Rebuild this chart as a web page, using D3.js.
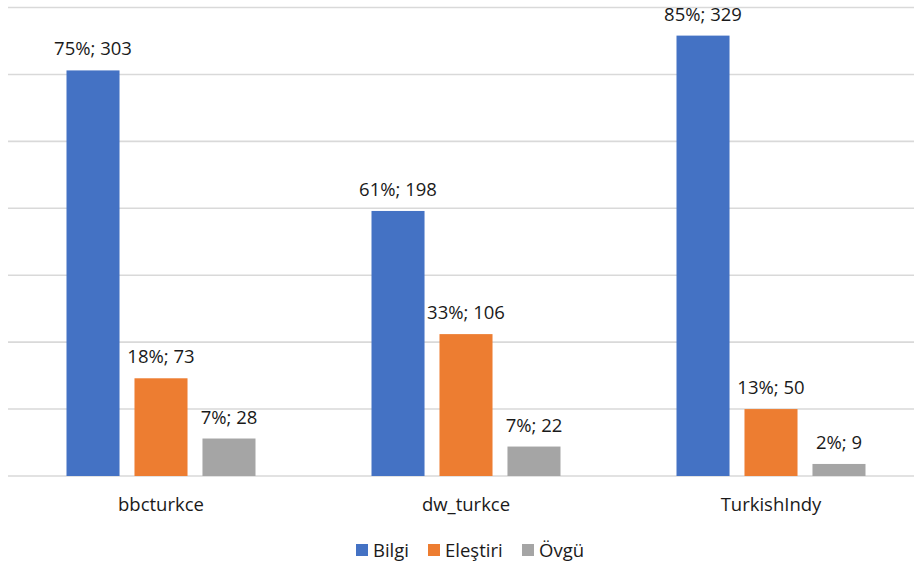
<!DOCTYPE html>
<html>
<head>
<meta charset="utf-8">
<script src="https://cdn.jsdelivr.net/npm/d3@7"></script>
<style>
  body { margin: 0; background: #fff; }
  svg text { font-family: "Open Sans", sans-serif; fill: #1a1a1a; }
</style>
</head>
<body>
<div id="chart"></div>
<script>
var categories = ["bbcturkce", "dw_turkce", "TurkishIndy"];
var seriesNames = ["Bilgi", "Eleştiri", "Övgü"];
var seriesColors = ["#4472C4", "#ED7D31", "#A5A5A5"];
// counts per category, one array per series
var bilgi = [303, 198, 329];
var elestiri = [73, 106, 50];
var ovgu = [28, 22, 9];
// percentage labels as shown on the bars
var bilgiPct = ["75%", "61%", "85%"];
var elestiriPct = ["18%", "33%", "13%"];
var ovguPct = ["7%", "7%", "2%"];
var yTicks = [0, 50, 100, 150, 200, 250, 300, 350];

var width = 914, height = 568;
var svg = d3.select("#chart").append("svg")
  .attr("width", width).attr("height", height);

var counts = [bilgi, elestiri, ovgu];
var pcts = [bilgiPct, elestiriPct, ovguPct];

var x0 = d3.scaleBand().domain(categories).range([8.5, 923.5]).padding(0);
var x1 = d3.scaleBand().domain(seriesNames).range([58, 247]).paddingInner(0.22).paddingOuter(0);
var y = d3.scaleLinear().domain([0, 350]).range([476, 7.5]);

// gridlines
svg.append("g").selectAll("line").data(yTicks).enter().append("line")
  .attr("x1", 8).attr("x2", 924)
  .attr("y1", function(d){ return y(d); })
  .attr("y2", function(d){ return y(d); })
  .attr("stroke", "#D9D9D9").attr("stroke-width", 1.6);

var rows = [];
categories.forEach(function(c, ci){
  seriesNames.forEach(function(s, si){
    rows.push({cat: c, series: s, si: si, value: counts[si][ci], pct: pcts[si][ci]});
  });
});

svg.append("g").selectAll("rect").data(rows).enter().append("rect")
  .attr("x", function(d){ return x0(d.cat) + x1(d.series); })
  .attr("y", function(d){ return y(d.value); })
  .attr("width", x1.bandwidth())
  .attr("height", function(d){ return y(0) - y(d.value); })
  .attr("fill", function(d){ return seriesColors[d.si]; });

svg.append("g").selectAll("text").data(rows).enter().append("text")
  .attr("x", function(d){ return x0(d.cat) + x1(d.series) + x1.bandwidth() / 2; })
  .attr("y", function(d){ return y(d.value) - 15; })
  .attr("text-anchor", "middle")
  .style("font-size", "18.5px")
  .text(function(d){ return d.pct + "; " + d.value; });

// category axis labels
svg.append("g").selectAll("text").data(categories).enter().append("text")
  .attr("x", function(d){ return x0(d) + x0.bandwidth() / 2; })
  .attr("y", 511)
  .attr("text-anchor", "middle")
  .style("font-size", "18.5px")
  .text(function(d){ return d; });

// legend
var legendX = [356, 428, 522];
var lg = svg.append("g").selectAll("g").data(seriesNames).enter().append("g")
  .attr("transform", function(d, i){ return "translate(" + legendX[i] + ",544)"; });
lg.append("rect").attr("width", 12).attr("height", 12)
  .attr("fill", function(d, i){ return seriesColors[i]; });
lg.append("text").attr("x", 17).attr("y", 13)
  .style("font-size", "18.5px")
  .text(function(d){ return d; });
</script>
</body>
</html>
